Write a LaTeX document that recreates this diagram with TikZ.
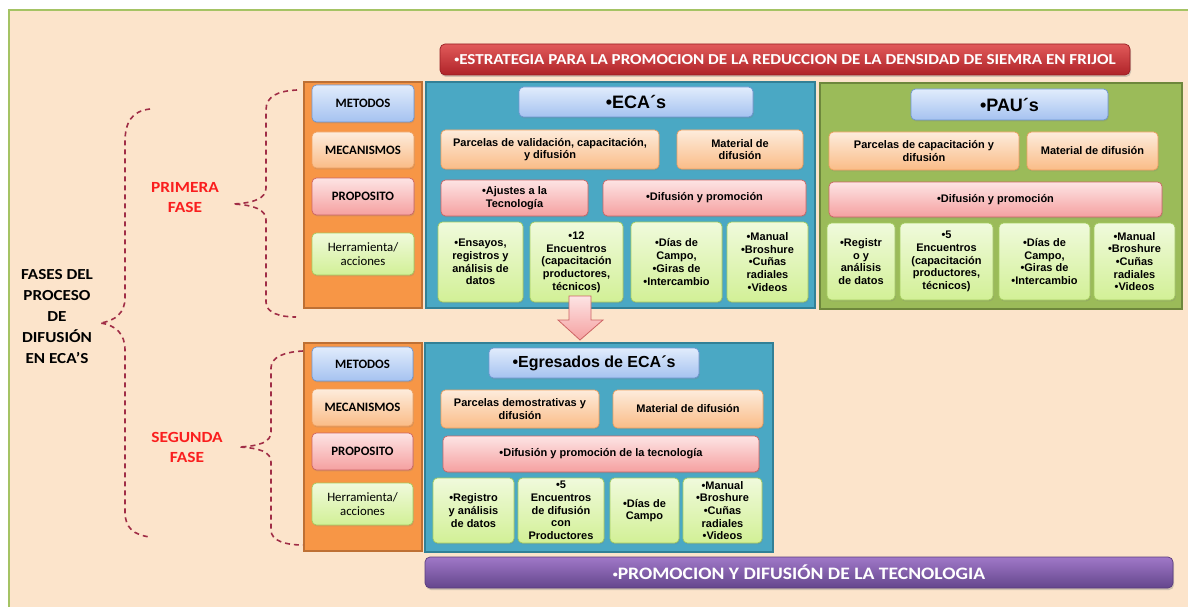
\documentclass[tikz,border=0pt]{standalone}
\usepackage{fontspec}
\setmainfont{Carlito}
\newfontfamily\widef{Carlito}[FakeStretch=1.12]
\newfontfamily\arialf{Liberation Sans}
\usetikzlibrary{shadows}
\definecolor{bg}{RGB}{252,228,203}
\definecolor{bgline}{RGB}{165,195,100}
\definecolor{orcol}{RGB}{247,150,70}
\definecolor{orcolb}{RGB}{190,112,52}
\definecolor{teal}{RGB}{74,168,196}
\definecolor{tealb}{RGB}{50,128,150}
\definecolor{pgreen}{RGB}{155,187,89}
\definecolor{pgreenb}{RGB}{110,135,60}
\definecolor{bluet}{RGB}{225,236,252}
\definecolor{blueb}{RGB}{165,194,240}
\definecolor{bluel}{RGB}{110,150,210}
\definecolor{oranget}{RGB}{253,236,220}
\definecolor{orangeb}{RGB}{250,188,135}
\definecolor{orangel}{RGB}{240,160,95}
\definecolor{pinkt}{RGB}{253,228,228}
\definecolor{pinkb}{RGB}{245,160,160}
\definecolor{pinkl}{RGB}{205,100,100}
\definecolor{greent}{RGB}{240,250,220}
\definecolor{greenb}{RGB}{210,240,150}
\definecolor{greenl}{RGB}{165,205,95}
\definecolor{redt}{RGB}{225,90,90}
\definecolor{redb}{RGB}{175,35,40}
\definecolor{redl}{RGB}{150,30,35}
\definecolor{purt}{RGB}{160,120,200}
\definecolor{purb}{RGB}{100,70,140}
\definecolor{purl}{RGB}{90,60,125}
\definecolor{brace}{RGB}{160,45,70}
\definecolor{fasered}{RGB}{250,30,30}
\newcommand\bxfont{\arialf\bfseries\fontsize{11}{12.7}\selectfont}
\newcommand\smbul{\raisebox{0.12em}{\fontsize{9}{9}\selectfont •}}
\newcommand\bx[7]{\node[#1, minimum width={(#5)-(#3)}, minimum height={(#6)-(#4)}] (#2) at ({((#3)+(#5))/2},{((#4)+(#6))/2}) {#7};}
\begin{document}
\begin{tikzpicture}[x=1pt,y=-1pt,
  panel/.style={rectangle, line width=1.4pt, inner sep=0pt},
  box/.style={rectangle, rounded corners=4.5pt, line width=0.7pt, align=center, inner sep=1pt, font=\bxfont, text=black,
    drop shadow={opacity=0.25,shadow xshift=0.8pt,shadow yshift=-1.4pt}},
  bluebox/.style={box, draw=bluel, top color=bluet, bottom color=blueb},
  orbox/.style={box, draw=orangel, top color=oranget, bottom color=orangeb},
  pinkbox/.style={box, draw=pinkl, top color=pinkt, bottom color=pinkb},
  grbox/.style={box, draw=greenl, top color=greent, bottom color=greenb},
  collab/.style={font=\bfseries\fontsize{12.8}{14}\selectfont},
  colherr/.style={font=\fontsize{12.8}{14.5}\selectfont},
  ttl/.style={font=\arialf\bfseries\fontsize{18}{20}\selectfont},
  bracepath/.style={draw=brace, line width=1.6pt, dash pattern=on 5pt off 4pt},
  bar/.style={rectangle, rounded corners=5pt, line width=0.7pt, text=white, inner sep=0pt,
    drop shadow={opacity=0.35,shadow xshift=1pt,shadow yshift=-2pt}}
]
\useasboundingbox (0,0) rectangle (1188,607);
\clip (0,0) rectangle (1188,607);
\fill[white] (0,0) rectangle (1188,607);
\draw[fill=bg, draw=bgline, line width=1.2pt] (9,10) rectangle (1200,620);

% title bar
\bx{bar, draw=redl, top color=redt, bottom color=redb, font=\widef\bfseries\fontsize{15.2}{17}\selectfont}{titlebar}{440}{44}{1130}{75}{\smbul ESTRATEGIA PARA LA PROMOCION DE LA REDUCCION DE LA DENSIDAD DE SIEMRA EN FRIJOL}

% panels
\bx{panel, fill=orcol, draw=orcolb}{col1}{304}{82}{422}{308}{}
\bx{panel, fill=teal, draw=tealb}{eca}{426}{82}{815}{308}{}
\bx{panel, fill=pgreen, draw=pgreenb}{pau}{820}{83}{1182}{309}{}
\bx{panel, fill=orcol, draw=orcolb}{col2}{304}{343}{422}{551}{}
\bx{panel, fill=teal, draw=tealb}{egr}{425}{343}{773}{552}{}

% column 1
\bx{bluebox, collab}{m1}{312}{85}{414}{122}{METODOS}
\bx{orbox, collab}{m2}{312}{132}{414}{168}{MECANISMOS}
\bx{pinkbox, collab}{m3}{312}{178}{414}{215}{PROPOSITO}
\bx{grbox, colherr}{m4}{312}{233}{414}{275}{Herramienta/\\acciones}
% column 2
\bx{bluebox, collab}{n1}{312}{347}{413}{381}{METODOS}
\bx{orbox, collab}{n2}{312}{389}{413}{426}{MECANISMOS}
\bx{pinkbox, collab}{n3}{312}{433}{413}{470}{PROPOSITO}
\bx{grbox, colherr}{n4}{312}{483}{413}{525}{Herramienta/\\acciones}

% ECA's
\bx{bluebox, ttl}{ecat}{519}{87}{753}{117}{•ECA´s}
\bx{orbox}{ecap}{441}{130}{659}{169}{Parcelas de validación, capacitación,\\y difusión}
\bx{orbox}{ecam}{677}{130}{803}{169}{Material de\\difusión}
\bx{pinkbox}{ecaa}{441}{180}{588}{216}{•Ajustes a la\\Tecnología}
\bx{pinkbox}{ecad}{603}{180}{806}{216}{•Difusión y promoción}
\bx{grbox}{ecag1}{438}{222}{523}{302}{•Ensayos,\\registros y\\análisis de\\datos}
\bx{grbox}{ecag2}{530}{222}{623}{302}{•12\\Encuentros\\(capacitación\\productores,\\técnicos)}
\bx{grbox}{ecag3}{631}{222}{722}{302}{•Días de\\Campo,\\•Giras de\\•Intercambio}
\bx{grbox}{ecag4}{727}{222}{808}{302}{•Manual\\•Broshure\\•Cuñas\\radiales\\•Videos}

% PAU's
\bx{bluebox, ttl}{paut}{911}{89}{1108}{120}{•PAU´s}
\bx{orbox}{paup}{829}{132}{1019}{170}{Parcelas de capacitación y\\difusión}
\bx{orbox}{paum}{1027}{132}{1158}{170}{Material de difusión}
\bx{pinkbox}{paud}{829}{182}{1162}{217}{•Difusión y promoción}
\bx{grbox}{paug1}{827}{223}{895}{300}{•Registr\\o y\\análisis\\de datos}
\bx{grbox}{paug2}{900}{223}{993}{300}{•5\\Encuentros\\(capacitación\\productores,\\técnicos)}
\bx{grbox}{paug3}{999}{223}{1090}{300}{•Días de\\Campo,\\•Giras de\\•Intercambio}
\bx{grbox}{paug4}{1094}{223}{1175}{300}{•Manual\\•Broshure\\•Cuñas\\radiales\\•Videos}

% Egresados
\bx{bluebox, ttl, font=\arialf\bfseries\fontsize{16}{18}\selectfont}{egt}{489}{348}{699}{378}{•Egresados de ECA´s}
\bx{orbox}{egp}{441}{390}{599}{428}{Parcelas demostrativas y\\difusión}
\bx{orbox}{egm}{613}{390}{763}{428}{Material de difusión}
\bx{pinkbox}{egd}{443}{436}{759}{472}{•Difusión y promoción de la tecnología}
\bx{grbox}{egg1}{433}{478}{514}{543}{•Registro\\y análisis\\de datos}
\bx{grbox}{egg2}{518}{478}{604}{543}{•5\\Encuentros\\de difusión\\con\\Productores}
\bx{grbox}{egg3}{610}{478}{679}{543}{•Días de\\Campo}
\bx{grbox}{egg4}{683}{478}{762}{543}{•Manual\\•Broshure\\•Cuñas\\radiales\\•Videos}

% bottom bar
\bx{bar, draw=purl, top color=purt, bottom color=purb, font=\widef\bfseries\fontsize{17.5}{19}\selectfont}{botbar}{425}{557}{1173}{588}{\smbul PROMOCION Y DIFUSIÓN DE LA TECNOLOGIA}

% arrow
\draw[draw=pinkl, line width=0.8pt, top color=pinkt, bottom color=pinkb]
  (569,296) -- (591,296) -- (591,320) -- (603,320) -- (580,340) -- (558,320) -- (569,320) -- cycle;

% labels
\node[font=\widef\bfseries\fontsize{15.3}{21}\selectfont, align=center] (fases) at (57,317) {FASES DEL\\PROCESO\\DE\\DIFUSIÓN\\EN ECA’S};
\node[font=\widef\bfseries\fontsize{15.5}{20}\selectfont, align=center, text=fasered] (f1) at (185,198) {PRIMERA\\FASE};
\node[font=\widef\bfseries\fontsize{15.5}{20}\selectfont, align=center, text=fasered] (f2) at (187,447) {SEGUNDA\\FASE};

% braces
\coordinate (b0t) at (150,109); \coordinate (b0m) at (100,323); \coordinate (b0b) at (150,537);
\draw[bracepath] (b0t) .. controls (132,111) and (125,122) .. (125,142) -- (125,298)
  .. controls (125,312) and (116,321) .. (b0m)
  .. controls (116,325) and (125,334) .. (125,350) -- (125,512)
  .. controls (125,528) and (134,535) .. (b0b);
\coordinate (b1t) at (297,90); \coordinate (b1m) at (233,204); \coordinate (b1b) at (296,317);
\draw[bracepath] (b1t) .. controls (278,91) and (266,96) .. (266,110) -- (266,188)
  .. controls (266,198) and (255,203) .. (b1m)
  .. controls (255,205) and (266,210) .. (266,220) -- (266,302)
  .. controls (266,313) and (280,317) .. (b1b);
\coordinate (b2t) at (303,351); \coordinate (b2m) at (239,447); \coordinate (b2b) at (303,545);
\draw[bracepath] (b2t) .. controls (284,352) and (271,357) .. (271,368) -- (271,432)
  .. controls (271,442) and (260,446) .. (b2m)
  .. controls (260,448) and (271,452) .. (271,462) -- (271,530)
  .. controls (271,541) and (286,545) .. (b2b);
\end{tikzpicture}
\end{document}
